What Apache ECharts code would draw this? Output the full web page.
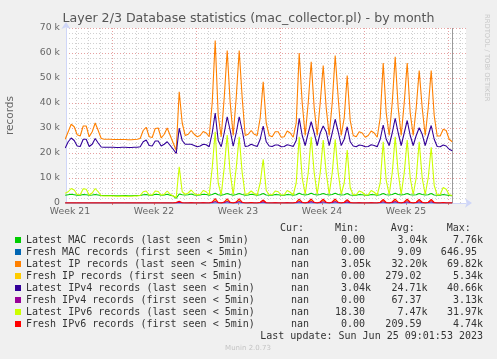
<!DOCTYPE html>
<html><head><meta charset="utf-8">
<script src="https://cdn.jsdelivr.net/npm/echarts@6/dist/echarts.min.js"></script>
<style>html,body{margin:0;padding:0;background:#F0F0F0;}#c{width:497px;height:359px;}</style>
</head><body><div id="c"></div>
<script>
const titleText = 'Layer 2/3 Database statistics (mac_collector.pl) - by month';
const yAxisName = 'records';
// time in days since Sun 21 May 2023 00:00
const times = [
 3.1,3.35,3.6,3.85, 4.1,4.35,4.6,4.85, 5.1,5.35,5.6,5.85, 6.1,6.35,6.6,6.85,
 7.1,7.35,7.6,7.85, 8.1,8.35,8.6,8.85, 9.1,9.35,9.6,9.85, 10.1,10.35,10.6,10.85,
 11.1,11.35,11.6,11.85, 12.1,12.35,12.6,12.85, 13.1,13.35,13.6,13.85, 14.1,14.35,14.6,14.85,
 15.1,15.35,15.6,15.85, 16.1,16.35,16.6,16.85, 17.1,17.35,17.6,17.85, 18.1,18.35,18.6,18.85,
 19.1,19.35,19.6,19.85, 20.1,20.35,20.6,20.85, 21.1,21.35,21.6,21.85, 22.1,22.35,22.6,22.85,
 23.1,23.35,23.6,23.85, 24.1,24.35,24.6,24.85, 25.1,25.35,25.6,25.85, 26.1,26.35,26.6,26.85,
 27.1,27.35,27.6,27.85, 28.1,28.35,28.6,28.85, 29.1,29.35,29.6,29.85, 30.1,30.35,30.6,30.85,
 31.1,31.35,31.6,31.85, 32.1,32.35,32.6,32.85, 33.1,33.35,33.6,33.85, 34.1,34.35,34.6,34.85,
 35.1,35.35];
const weekLabelDays = [3.5, 10.5, 17.5, 24.5, 31.5];
const weekLabels = ['Week 21','Week 22','Week 23','Week 24','Week 25'];
const weekTickDays = [7, 10.5, 14, 17.5, 21, 24.5, 28, 31.5, 35];
const majorGridDays = [7, 14, 21, 28, 35];
const minorGridDays = [4,5,6,8,9,10,11,12,13,15,16,17,18,19,20,22,23,24,25,26,27,29,30,31,32,33,34,36];
const lastUpdateDay = 35.376;
const xMin = 19/6, xMax = 36.5;
const yMax = 70, yStep = 10;

const seriesNames = [
 'Latest MAC records (last seen < 5min)',
 'Fresh MAC records (first seen < 5min)',
 'Latest IP records (last seen < 5min)',
 'Fresh IP records (first seen < 5min)',
 'Latest IPv4 records (last seen < 5min)',
 'Fresh IPv4 records (first seen < 5min)',
 'Latest IPv6 records (last seen < 5min)',
 'Fresh IPv6 records (first seen < 5min)'];
const seriesColors = ['#00CC00','#0066B3','#FF8000','#FFCC00','#330099','#990099','#CCFF00','#FF0000'];

// values in thousands
const latestMAC = [
 3.1,3.3,3.5,3.3, 3.1,3.1,3.4,3.3, 3.1,3.2,3.4,3.2, 3.0,3.0,3.0,3.0,
 3.0,2.9,2.9,3.0, 3.0,2.9,2.9,3.0, 3.0,3.0,3.3,3.4, 3.1,3.1,3.5,3.4,
 3.1,3.2,3.5,3.1, 2.8,1.9,3.6,3.3, 3.2,3.3,3.6,3.2, 3.1,3.2,3.5,3.4,
 3.1,3.4,3.9,3.3, 3.1,3.4,3.8,3.4, 3.1,3.4,3.8,3.4, 3.1,3.2,3.5,3.3,
 3.1,3.3,3.8,3.2, 3.1,3.1,3.4,3.3, 3.1,3.1,3.4,3.3, 3.1,3.3,3.9,3.4,
 3.2,3.4,3.9,3.4, 3.2,3.4,3.8,3.4, 3.2,3.4,3.9,3.4, 3.2,3.3,3.8,3.2,
 3.1,3.1,3.4,3.3, 3.1,3.1,3.4,3.3, 3.1,3.3,3.8,3.3, 3.2,3.4,3.9,3.4,
 3.2,3.4,3.8,3.3, 3.2,3.3,3.8,3.4, 3.2,3.3,3.8,3.2, 3.1,3.1,3.4,3.2,
 3.0,2.9];
const freshMAC = [
 0,0,0,0, 0,0,0,0, 0,0,0,0, 0,0,0,0,
 0,0,0,0, 0,0,0,0, 0,0,0,0, 0,0,0,0,
 0,0,0,0, 0,0,0.02,0, 0,0,0,0, 0,0,0,0,
 0,0,0.03,0, 0,0,0.03,0, 0,0,0.03,0, 0,0,0,0,
 0,0,0.02,0, 0,0,0,0, 0,0,0,0, 0,0,0.03,0,
 0,0,0.03,0, 0,0,0.03,0, 0,0,0.03,0, 0,0,0.02,0,
 0,0,0,0, 0,0,0,0, 0,0,0.02,0, 0,0,0.03,0,
 0,0,0.03,0, 0,0,0.02,0, 0,0,0.02,0, 0,0,0,0,
 0,0];
const latestIP = [
 25.5,28.5,31.5,30.5, 27.3,26.8,30.8,30.8, 26.5,28.5,32.0,29.0, 25.8,25.5,25.5,25.5,
 25.4,25.4,25.4,25.4, 25.4,25.3,25.3,25.4, 25.5,25.8,29.0,30.3, 26.5,26.2,29.8,30.0,
 26.0,27.5,30.0,27.0, 24.0,21.0,44.5,32.0, 27.0,27.5,29.0,27.5, 26.5,27.0,28.6,28.0,
 26.5,40.0,65.0,35.0, 26.5,42.0,61.0,40.0, 27.0,42.0,61.0,42.0, 27.0,27.5,29.0,27.5,
 27.0,34.0,48.5,32.0, 27.0,26.5,28.5,28.5, 26.3,26.5,28.8,28.0, 26.3,32.0,60.0,40.0,
 27.0,40.0,56.5,38.0, 27.0,40.0,55.0,38.0, 27.0,40.0,59.0,42.0, 27.0,34.0,51.0,33.0,
 27.0,26.5,28.5,28.0, 26.3,27.0,28.8,28.0, 26.3,34.0,56.0,36.0, 27.0,40.0,58.5,38.0,
 27.0,40.0,56.0,36.0, 27.0,38.0,53.0,38.0, 27.0,38.0,53.0,35.0, 26.8,26.8,29.5,29.0,
 25.5,24.5];
const freshIP = [
 0,0,0,0, 0,0,0,0, 0,0,0,0, 0,0,0,0,
 0,0,0,0, 0,0,0,0, 0,0,0,0, 0,0,0,0,
 0,0,0,0, 0,0.15,0.5,0.1, 0,0,0.1,0, 0,0,0.1,0,
 0,0.3,1.3,0.15, 0,0.3,1.2,0.2, 0,0.3,1.2,0.2, 0,0,0.15,0,
 0,0.2,0.9,0.1, 0,0,0.1,0, 0,0,0.1,0, 0,0.2,1.2,0.2,
 0,0.3,1.2,0.2, 0,0.3,1.1,0.2, 0,0.3,1.2,0.2, 0,0.2,1.0,0.15,
 0,0,0.1,0, 0,0,0.1,0, 0,0.2,1.0,0.15, 0,0.3,1.2,0.2,
 0,0.3,1.1,0.2, 0,0.2,1.0,0.2, 0,0.2,1.0,0.15, 0,0,0.2,0,
 0,0];
const latestIPv4 = [
 22.0,24.5,26.0,25.0, 22.8,22.6,25.5,25.5, 22.6,23.5,25.8,24.0, 22.4,22.3,22.3,22.3,
 22.3,22.2,22.2,22.3, 22.3,22.2,22.2,22.3, 22.3,22.5,24.5,25.2, 23.0,22.8,24.8,24.8,
 22.8,23.5,24.5,23.0, 21.5,19.8,29.9,25.0, 23.5,23.5,23.5,23.0, 22.5,22.8,23.5,23.3,
 22.5,28.0,36.0,25.0, 22.5,28.0,34.5,29.0, 22.7,28.0,34.5,29.0, 22.6,22.8,23.5,23.0,
 22.6,25.5,30.8,24.5, 22.8,22.6,23.2,23.2, 22.5,22.6,23.3,23.0, 22.6,25.0,33.9,27.0,
 23.0,28.0,32.5,28.0, 23.0,28.0,30.8,28.5, 23.0,28.0,33.5,28.5, 23.0,25.5,30.5,24.5,
 22.8,22.5,23.2,23.0, 22.5,22.6,23.3,23.0, 22.5,25.5,31.2,25.5, 23.0,28.0,33.9,28.0,
 23.0,28.0,33.0,27.0, 23.0,27.0,30.1,27.5, 23.0,27.0,31.0,25.5, 22.6,22.5,23.2,22.8,
 21.5,20.9];
const freshIPv4 = [
 0,0,0,0, 0,0,0,0, 0,0,0,0, 0,0,0,0,
 0,0,0,0, 0,0,0,0, 0,0,0,0, 0,0,0,0,
 0,0,0,0, 0,0.05,0.25,0.05, 0,0,0.05,0, 0,0,0.05,0,
 0,0.15,0.6,0.1, 0,0.15,0.6,0.1, 0,0.15,0.6,0.1, 0,0,0.1,0,
 0,0.1,0.45,0.05, 0,0,0.05,0, 0,0,0.05,0, 0,0.1,0.55,0.1,
 0,0.15,0.55,0.1, 0,0.15,0.5,0.1, 0,0.15,0.55,0.1, 0,0.1,0.45,0.05,
 0,0,0.05,0, 0,0,0.05,0, 0,0.1,0.5,0.05, 0,0.15,0.55,0.1,
 0,0.15,0.5,0.1, 0,0.1,0.5,0.1, 0,0.1,0.5,0.05, 0,0,0.1,0,
 0,0];
const latestIPv6 = [
 3.9,4.5,5.8,5.2, 3.4,3.3,5.7,5.5, 3.2,4.0,5.8,4.5, 2.9,2.8,2.8,2.8,
 2.8,2.7,2.7,2.8, 2.7,2.7,2.7,2.8, 2.8,3.0,4.5,4.8, 3.2,3.2,4.8,4.6,
 3.1,3.5,4.8,3.5, 2.8,2.2,14.5,4.5, 3.5,4.0,5.2,3.8, 3.2,3.5,5.0,4.5,
 3.2,14.0,28.5,8.0, 3.2,14.0,27.2,12.0, 3.3,14.0,26.5,12.0, 3.3,3.8,4.8,3.8,
 3.2,8.0,17.5,5.0, 3.3,3.3,4.8,4.5, 3.2,3.3,5.0,4.3, 3.2,8.0,26.5,10.0,
 3.5,12.0,26.5,12.0, 3.5,12.0,25.2,12.0, 3.5,12.0,25.5,12.0, 3.5,8.0,21.2,6.0,
 3.3,3.3,4.8,4.3, 3.2,3.3,5.0,4.3, 3.2,8.0,24.5,9.0, 3.4,12.0,26.5,12.0,
 3.4,12.0,25.2,10.0, 3.4,10.0,24.5,10.0, 3.4,10.0,22.3,7.0, 3.2,3.4,6.2,5.5,
 3.3,3.0];
const freshIPv6 = [
 0,0,0,0, 0,0,0,0, 0,0,0,0, 0,0,0,0,
 0,0,0,0, 0,0,0,0, 0,0,0,0, 0,0,0,0,
 0,0,0,0, 0,0.2,0.7,0.1, 0,0,0.1,0, 0,0,0.1,0,
 0,0.4,1.8,0.2, 0,0.4,1.7,0.3, 0,0.4,1.7,0.3, 0,0,0.2,0,
 0,0.3,1.2,0.1, 0,0,0.1,0, 0,0,0.1,0, 0,0.3,1.6,0.3,
 0,0.4,1.6,0.3, 0,0.4,1.5,0.3, 0,0.4,1.6,0.3, 0,0.3,1.3,0.2,
 0,0,0.1,0, 0,0,0.1,0, 0,0.3,1.4,0.2, 0,0.4,1.6,0.3,
 0,0.4,1.5,0.3, 0,0.3,1.4,0.3, 0,0.3,1.4,0.2, 0,0,0.2,0,
 0,0];
const seriesValues = [latestMAC, freshMAC, latestIP, freshIP, latestIPv4, freshIPv4, latestIPv6, freshIPv6];

const statHeaders = ['Cur:', 'Min:', 'Avg:', 'Max:'];
const curVals = ['nan','nan','nan','nan','nan','nan','nan','nan'];
const minVals = ['0.00 ','0.00 ','3.05k','0.00 ','3.04k','0.00 ','18.30 ','0.00 '];
const avgVals = ['3.04k','9.09 ','32.20k','279.02 ','24.71k','67.37 ','7.47k','209.59 '];
const maxVals = ['7.76k','646.95 ','69.82k','5.34k','40.66k','3.13k','31.97k','4.74k'];
const lastUpdateText = 'Last update: Sun Jun 25 09:01:53 2023';
const muninText = 'Munin 2.0.73';
const sideText = 'RRDTOOL / TOBI OETIKER';

const chart = echarts.init(document.getElementById('c'), null, {renderer:'canvas'});
const mono = 'DejaVu Sans Mono';
const sans = 'DejaVu Sans';
const headerX = [280, 335, 390.7, 446.7];
const colRight = [309, 371, 427.5, 483];
const rowY0 = 240, rowStep = 12;

const graphics = [];
statHeaders.forEach((h, i) => graphics.push({type:'text', x: headerX[i], y: 228, silent:true,
  style:{text:h, font:'10px "'+mono+'"', fill:'#333', textAlign:'left', textVerticalAlign:'middle', align:'left', verticalAlign:'middle'}}));
[curVals, minVals, avgVals, maxVals].forEach((col, c) => col.forEach((v, r) => graphics.push({type:'text', x: colRight[c], y: rowY0 + r*rowStep, silent:true,
  style:{text:v, font:'10px "'+mono+'"', fill:'#333', textAlign:'right', textVerticalAlign:'middle', align:'right', verticalAlign:'middle', whiteSpace:'pre'}})));
graphics.push({type:'text', x:483, y:336, silent:true, style:{text:lastUpdateText, font:'10px "'+mono+'"', fill:'#333', textAlign:'right', textVerticalAlign:'middle', align:'right', verticalAlign:'middle'}});
graphics.push({type:'text', x:248, y:348, silent:true, style:{text:muninText, font:'7px "'+sans+'"', fill:'#c4c4c4', textAlign:'center', textVerticalAlign:'middle', align:'center', verticalAlign:'middle'}});
graphics.push({type:'text', x:487, y:14, rotation:-Math.PI/2, silent:true, style:{text:sideText, font:'6.8px "'+sans+'"', fill:'#c8c8c8', textAlign:'left', textVerticalAlign:'middle', align:'left', verticalAlign:'middle'}});

function gridSeries(name, days, color, type) {
  return { name, type:'line', data:[], z:1, silent:true, animation:false, color: color,
    lineStyle:{color: color},
    markLine:{silent:true, symbol:['none','none'], label:{show:false}, animation:false,
      lineStyle:{color: color, type: type, width:1, opacity:1},
      emphasis:{disabled:true},
      data: days.map(d => ({xAxis:d}))}};
}
const series = [
  gridSeries('_minor', minorGridDays, '#d0d0d0', [1,2]),
  gridSeries('_major', majorGridDays, '#e6a0a0', [1,2]),
  gridSeries('_now', [lastUpdateDay], '#9a9a9a', 'solid')
].concat(seriesNames.map((n, i) => ({
  name: n, type:'line', showSymbol:false, symbol:'none', z: 3 + i, silent:true, animation:false,
  lineStyle:{width:1.1, color: seriesColors[i]}, itemStyle:{color: seriesColors[i]},
  data: times.map((t, k) => [t, seriesValues[i][k]])
})));

chart.setOption({
  backgroundColor:'#F0F0F0',
  animation:false,
  title:{text:titleText, left:'center', top:12, padding:0,
    textStyle:{fontFamily:sans, fontSize:12.6, fontWeight:'normal', color:'#555'}},
  grid:{left:66, top:28, width:400, height:175, show:true, backgroundColor:'#FFFFFF', borderWidth:0,
    containLabel:false, outerBoundsMode:'none'},
  legend:{show:true, orient:'vertical', left:15, top:234, itemWidth:6, itemHeight:6, itemGap:0, icon:'rect',
    selectedMode:false, padding:0, data: seriesNames,
    textStyle:{fontFamily:mono, fontSize:10, color:'#333', lineHeight:12}},
  xAxis:{type:'value', min:xMin, max:xMax,
    axisLine:{show:true, lineStyle:{color:'#CFD6F8', width:1}, symbol:['none','arrow'], symbolSize:[7,7], symbolOffset:[0,6]},
    axisTick:{show:true, length:2, lineStyle:{color:'#e08080'}, customValues: weekTickDays},
    axisLabel:{show:true, margin:4, fontFamily:sans, fontSize:9.3, color:'#666', customValues: weekLabelDays,
      formatter: v => { const i = weekLabelDays.findIndex(d => Math.abs(d - v) < 1e-6); return i >= 0 ? weekLabels[i] : ''; }},
    splitLine:{show:false}},
  yAxis:{type:'value', min:0, max:yMax, interval:yStep,
    name:yAxisName, nameLocation:'middle', nameGap:50, nameRotate:90,
    nameTextStyle:{fontFamily:sans, fontSize:10.5, color:'#666'},
    axisLine:{show:true, lineStyle:{color:'#CFD6F8', width:1}, symbol:['none','arrow'], symbolSize:[7,7], symbolOffset:[0,6]},
    axisTick:{show:false},
    axisLabel:{margin:6, fontFamily:sans, fontSize:9.3, color:'#666', formatter: v => v === 0 ? '0' : v + ' k'},
    splitLine:{show:true, lineStyle:{color:'#e6a0a0', type:[1,2], width:1}},
    minorTick:{show:false, splitNumber:5},
    minorSplitLine:{show:true, lineStyle:{color:'#d0d0d0', type:[1,2], width:1}}},
  graphic: graphics,
  series: series
});
</script></body></html>
